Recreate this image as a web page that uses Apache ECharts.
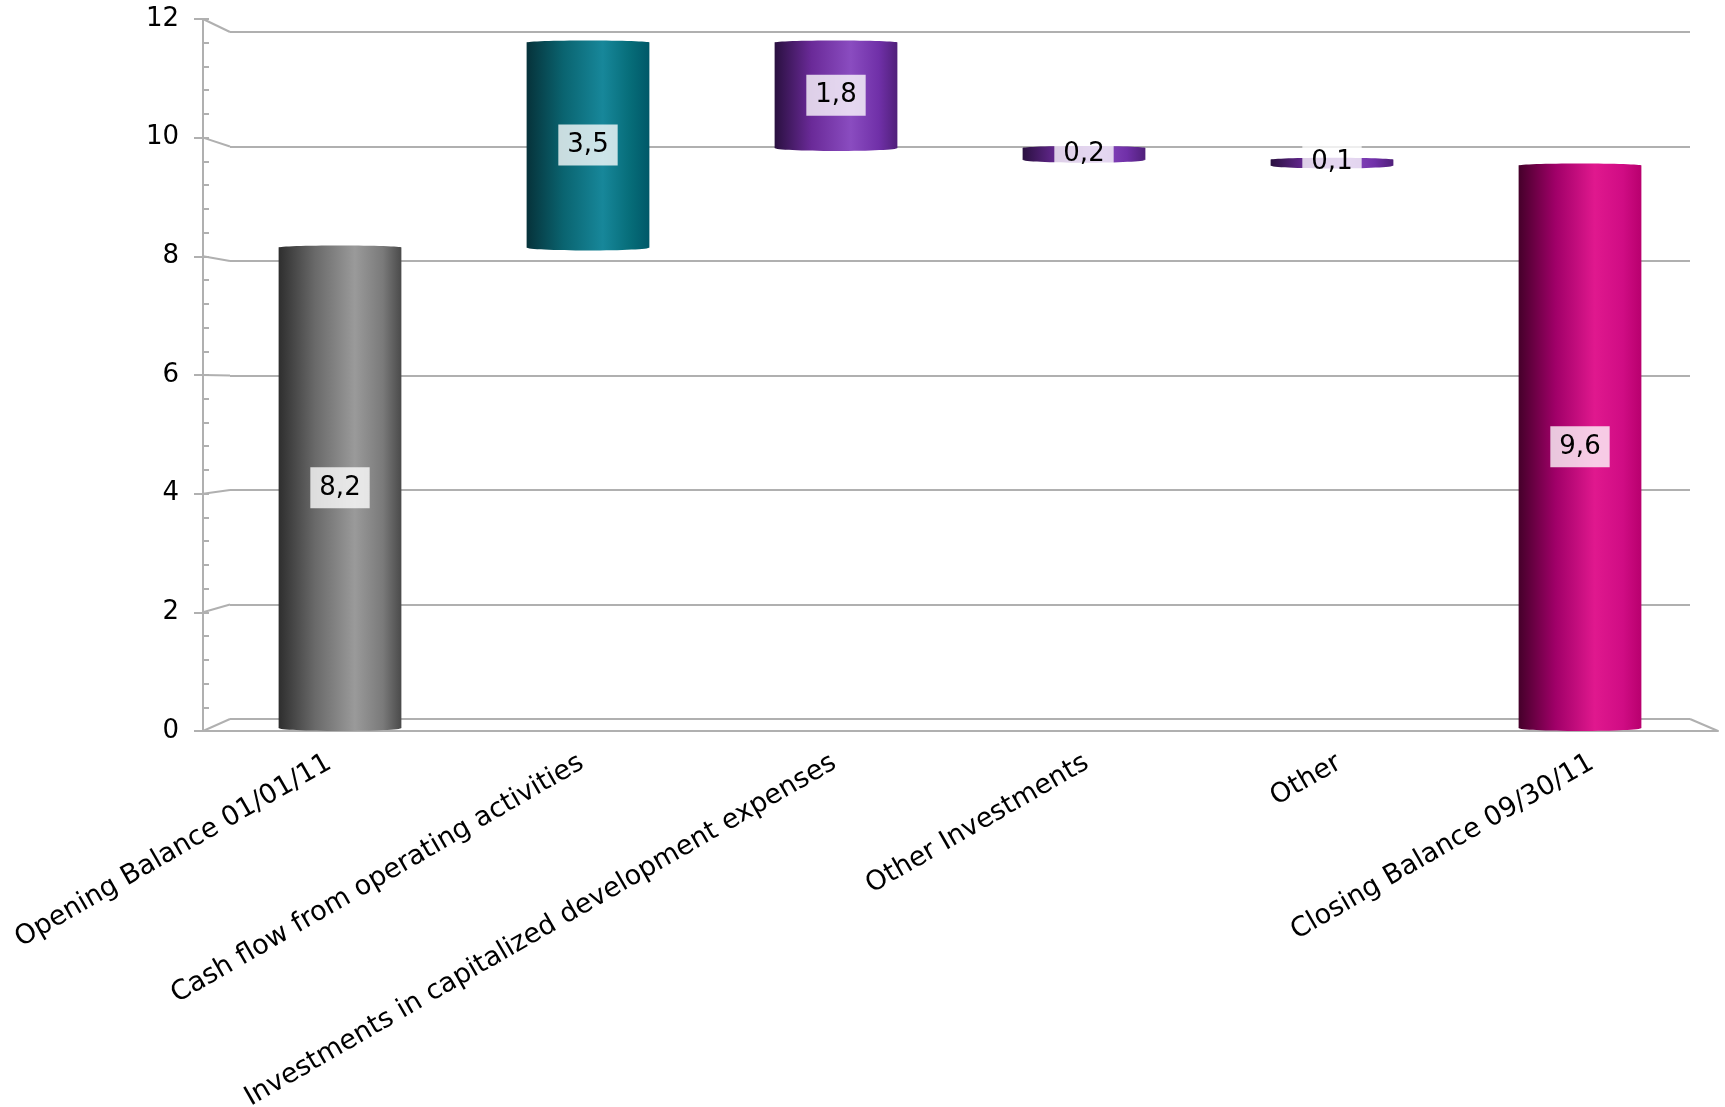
<!DOCTYPE html>
<html>
<head>
<meta charset="utf-8">
<script src="https://cdn.jsdelivr.net/npm/echarts@6/dist/echarts.min.js"></script>
<style>html,body{margin:0;padding:0;background:#fff}#c{width:1725px;height:1107px}</style>
</head>
<body>
<div id="c"></div>
<script>
const categories = ['Opening Balance 01/01/11', 'Cash flow from operating activities', 'Investments in capitalized development expenses', 'Other Investments', 'Other', 'Closing Balance 09/30/11'];
const changes = [8.2, 3.5, -1.8, -0.2, -0.1, 9.6];
const isTotal = [true, false, false, false, false, true];
const yTicks = [0, 2, 4, 6, 8, 10, 12];

const palettes = [
  ['#2e2e2e', '#6a6a6a', '#9a9a9a', '#7a7a7a', '#4a4a4a'],
  ['#06323a', '#0a6470', '#17879a', '#066c78', '#005868'],
  ['#2a1040', '#6a2a98', '#8a4cc0', '#7030a8', '#50207a'],
  ['#2a1040', '#6a2a98', '#8a4cc0', '#7030a8', '#50207a'],
  ['#2a1040', '#6a2a98', '#8a4cc0', '#7030a8', '#50207a'],
  ['#45002a', '#a00068', '#e0188e', '#d00c84', '#b8006e']
];

// build waterfall ranges
let running = 0;
const barData = changes.map((v, i) => {
  let lo, hi;
  if (isTotal[i]) { lo = 0; hi = v; running = v; }
  else { const s = running; running = running + v; lo = Math.min(s, running); hi = Math.max(s, running); }
  return [i, lo, hi, Math.abs(v)];
});

function grad(p) {
  return { type: 'linear', x: 0, y: 0, x2: 1, y2: 0, colorStops: [
    { offset: 0, color: p[0] }, { offset: 0.3, color: p[1] }, { offset: 0.62, color: p[2] },
    { offset: 0.85, color: p[3] }, { offset: 1, color: p[4] } ] };
}

const chart = echarts.init(document.getElementById('c'));
const gray = '#b0b0b0';
const font = 'DejaVu Sans';

chart.setOption({
  animation: false,
  backgroundColor: '#fff',
  grid: [
    { left: 203, right: 7, top: 19, bottom: 376, outerBoundsMode: 'none', containLabel: false },
    { left: 230, right: 35, top: 32, bottom: 388, outerBoundsMode: 'none', containLabel: false },
    { left: 216, right: 21, top: 25, bottom: 379, outerBoundsMode: 'none', containLabel: false }
  ],
  xAxis: [
    { type: 'category', gridIndex: 0, data: categories, boundaryGap: true,
      axisLine: { lineStyle: { color: gray, width: 2 } },
      axisTick: { length: 10, lineStyle: { color: gray, width: 2 } },
      axisLabel: { interval: 0, rotate: 30, fontFamily: font, fontSize: 27, color: '#000', margin: 30 } },
    { type: 'category', gridIndex: 1, data: categories, show: false },
    { type: 'category', gridIndex: 2, data: categories, show: false }
  ],
  yAxis: [
    { type: 'value', gridIndex: 0, position: 'left', min: 0, max: 12, interval: 2,
      axisLine: { show: true, lineStyle: { color: gray, width: 2 } },
      axisTick: { show: true, length: 9, lineStyle: { color: gray, width: 2 } },
      axisLabel: { fontFamily: font, fontSize: 26, color: '#000', margin: 24 },
      splitLine: { show: false } },
    { type: 'value', gridIndex: 0, position: 'left', offset: 0, min: 0, max: 12, interval: 0.4,
      axisLine: { show: false },
      axisTick: { show: true, inside: true, length: 6, lineStyle: { color: gray, width: 2 } },
      axisLabel: { show: false }, splitLine: { show: false } },
    { type: 'value', gridIndex: 1, min: 0, max: 12, interval: 2,
      axisLine: { show: false }, axisTick: { show: false }, axisLabel: { show: false },
      splitLine: { show: true, lineStyle: { color: gray, width: 2 } } },
    { type: 'value', gridIndex: 2, min: 0, max: 12, show: false, splitLine: { show: false } }
  ],
  series: [{
    type: 'custom',
    xAxisIndex: 2, yAxisIndex: 3,
    data: barData,
    z: 10,
    renderItem: function (params, api) {
      const i = api.value(0);
      const top = api.coord([i, api.value(2)]);
      const bot = api.coord([i, api.value(1)]);
      const w = api.size([1, 0])[0] * 0.495;
      const cx = top[0];
      const fill = grad(palettes[i]);
      const h = Math.max(bot[1] - top[1], 1);
      const txt = String(api.value(3)).replace('.', ',');
      return { type: 'group', children: [
        { type: 'rect', shape: { x: cx - w / 2, y: top[1], width: w, height: h }, style: { fill: fill } },
        { type: 'ellipse', shape: { cx: cx, cy: bot[1], rx: w / 2, ry: 3 }, style: { fill: fill } },
        { type: 'ellipse', shape: { cx: cx, cy: top[1], rx: w / 2, ry: 2 }, style: { fill: fill } },
        { type: 'text', z2: 20, style: { text: txt, x: cx, y: (top[1] + bot[1]) / 2, align: 'center', verticalAlign: 'middle',
          fontFamily: font, fontSize: 26, lineHeight: 26, fill: '#000', backgroundColor: 'rgba(255,255,255,0.78)', padding: [8, 9, 7, 9] } }
      ] };
    }
  }]
});

// perspective connectors between front axis and back wall
const gfx = [];
const stepA = chart.convertToPixel({ xAxisIndex: 0 }, 1) - chart.convertToPixel({ xAxisIndex: 0 }, 0);
const xFront = chart.convertToPixel({ xAxisIndex: 0 }, 0) - stepA / 2;
const xFrontR = chart.convertToPixel({ xAxisIndex: 0 }, categories.length - 1) + stepA / 2;
const stepB = chart.convertToPixel({ xAxisIndex: 1 }, 1) - chart.convertToPixel({ xAxisIndex: 1 }, 0);
const xBack = chart.convertToPixel({ xAxisIndex: 1 }, 0) - stepB / 2;
const xBackR = chart.convertToPixel({ xAxisIndex: 1 }, categories.length - 1) + stepB / 2;
yTicks.forEach(v => {
  const yf = chart.convertToPixel({ yAxisIndex: 0 }, v);
  const yb = chart.convertToPixel({ yAxisIndex: 2 }, v);
  gfx.push({ type: 'line', z: 1, shape: { x1: xFront, y1: yf, x2: xBack, y2: yb }, style: { stroke: gray, lineWidth: 2 } });
});
const yf0 = chart.convertToPixel({ yAxisIndex: 0 }, 0);
const yb0 = chart.convertToPixel({ yAxisIndex: 2 }, 0);
gfx.push({ type: 'line', z: 1, shape: { x1: xBackR, y1: yb0, x2: xFrontR, y2: yf0 }, style: { stroke: gray, lineWidth: 2 } });
chart.setOption({ graphic: gfx });
</script>
</body>
</html>
